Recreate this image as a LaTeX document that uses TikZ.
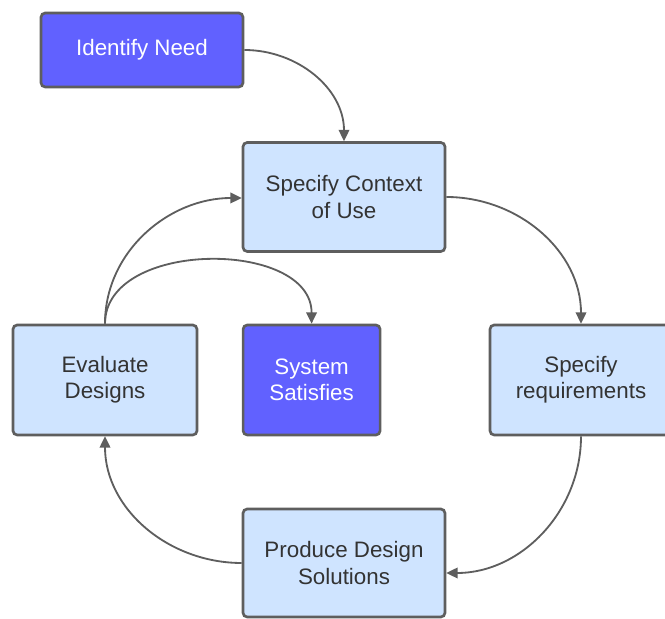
\documentclass[tikz,border=0pt]{standalone}
\usepackage{fontspec}
\setmainfont{Liberation Sans}
\usetikzlibrary{arrows.meta}

\definecolor{boxline}{HTML}{5E5E5E}
\definecolor{darkfill}{HTML}{6161FF}
\definecolor{lightfill}{HTML}{CFE4FF}
\definecolor{boxtext}{HTML}{333333}

\begin{document}
\begin{tikzpicture}[
    stage/.style={draw=boxline, line width=1.9pt, rounded corners=3pt,
      fill=lightfill, text=boxtext, align=center, inner sep=0pt,
      font=\fontsize{15.9pt}{18.8pt}\selectfont},
    goal/.style={stage, fill=darkfill, text=white},
    link/.style={draw=boxline, line width=1.3pt,
      -{Triangle[length=8pt,width=7.5pt]}}
  ]
  \useasboundingbox (0,0) rectangle (16.625,15.475);

  % boxes
  \node[goal, minimum width=5.05cm, minimum height=1.85cm] (need) at (3.55,14.225) {Identify Need};
  \node[stage, minimum width=5.05cm, minimum height=2.725cm] (context) at (8.6,10.55) {Specify Context\\of Use};
  \node[stage, minimum width=4.6cm, minimum height=2.75cm] (evaluate) at (2.625,5.975) {Evaluate\\Designs};
  \node[goal, minimum width=3.425cm, minimum height=2.75cm] (satisfies) at (7.79,5.975) {System\\Satisfies};
  \node[stage, minimum width=4.55cm, minimum height=2.75cm] (require) at (14.525,5.975) {Specify\\requirements};
  \node[stage, minimum width=5.05cm, minimum height=2.7cm] (produce) at (8.6,1.4) {Produce Design\\Solutions};

  % design cycle
  \draw[link] (need.east) to[out=0, in=90] (context.north);
  \draw[link] (context.east) to[out=0, in=90] (require.north);
  \coordinate (produce in) at ([yshift=-0.25cm]produce.east);
  \draw[link] (require.south) to[out=-90, in=0] (produce in);
  \draw[link] (produce.west) to[out=180, in=-90] (evaluate.south);
  \draw[link] (evaluate.north) to[out=90, in=180] ([yshift=-0.025cm]context.west);
  \draw[link] (evaluate.north) to[out=90, in=90, looseness=1.05] (satisfies.north);
\end{tikzpicture}
\end{document}
